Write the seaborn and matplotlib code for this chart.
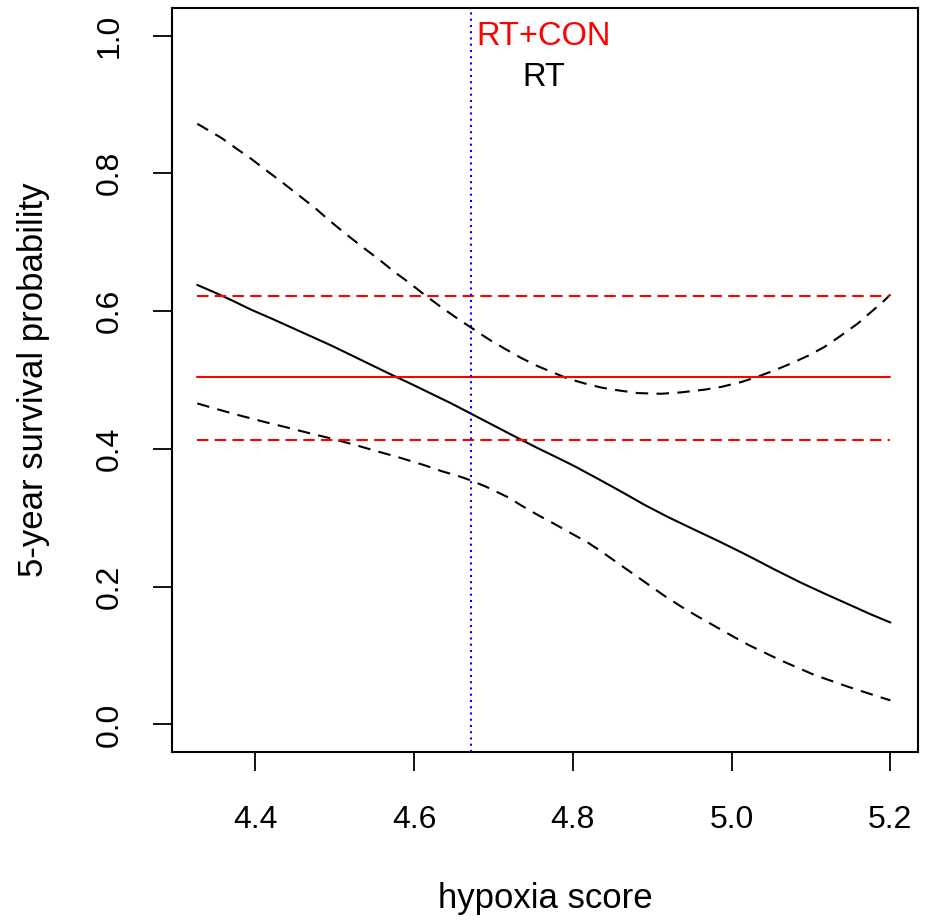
import matplotlib
matplotlib.use("Agg")
import matplotlib.pyplot as plt
import seaborn as sns
import pandas as pd

# ---- data ----
rt_x = [4.327, 4.349, 4.370, 4.395, 4.421, 4.446, 4.471, 4.496, 4.521, 4.546, 4.571,
        4.597, 4.622, 4.647, 4.672, 4.697, 4.727, 4.756, 4.781, 4.802, 4.831, 4.861,
        4.890, 4.920, 4.949, 4.982, 5.012, 5.029, 5.054, 5.087, 5.117, 5.150, 5.175, 5.200]
rt_y = [0.638, 0.627, 0.616, 0.602, 0.589, 0.576, 0.563, 0.550, 0.536, 0.522, 0.508,
        0.494, 0.480, 0.466, 0.451, 0.436, 0.418, 0.401, 0.387, 0.375, 0.357, 0.338,
        0.319, 0.301, 0.285, 0.267, 0.250, 0.240, 0.225, 0.206, 0.190, 0.173, 0.160, 0.148]

rt_up_x = [4.327, 4.358, 4.375, 4.395, 4.412, 4.435, 4.454, 4.475, 4.494, 4.513, 4.534,
           4.557, 4.574, 4.593, 4.614, 4.634, 4.655, 4.672, 4.685, 4.697, 4.718, 4.735,
           4.756, 4.777, 4.794, 4.815, 4.836, 4.857, 4.882, 4.911, 4.936, 4.966, 4.987,
           5.012, 5.031, 5.054, 5.075, 5.096, 5.117, 5.136, 5.159, 5.175, 5.192, 5.200]
rt_up_y = [0.872, 0.851, 0.837, 0.821, 0.806, 0.786, 0.769, 0.750, 0.731, 0.713, 0.694,
           0.674, 0.658, 0.642, 0.623, 0.606, 0.589, 0.576, 0.566, 0.557, 0.543, 0.532,
           0.520, 0.510, 0.502, 0.495, 0.489, 0.485, 0.481, 0.480, 0.482, 0.486, 0.490,
           0.497, 0.504, 0.514, 0.524, 0.535, 0.548, 0.563, 0.582, 0.598, 0.615, 0.624]

rt_lo_x = [4.327, 4.354, 4.379, 4.412, 4.437, 4.471, 4.496, 4.525, 4.555, 4.580, 4.614,
           4.634, 4.660, 4.672, 4.691, 4.718, 4.735, 4.756, 4.777, 4.794, 4.819, 4.836,
           4.857, 4.878, 4.899, 4.915, 4.938, 4.957, 4.980, 5.003, 5.022, 5.062, 5.104,
           5.146, 5.186, 5.200]
rt_lo_y = [0.466, 0.457, 0.449, 0.439, 0.432, 0.422, 0.415, 0.406, 0.396, 0.388, 0.376,
           0.368, 0.359, 0.354, 0.345, 0.330, 0.318, 0.304, 0.291, 0.280, 0.264, 0.251,
           0.234, 0.217, 0.200, 0.187, 0.170, 0.157, 0.142, 0.127, 0.115, 0.093, 0.072,
           0.055, 0.040, 0.035]

con_x = [4.327, 5.200]
con_mean = 0.505
con_upper = 0.622
con_lower = 0.413

cutoff = 4.672

x_ticks = [4.4, 4.6, 4.8, 5.0, 5.2]
x_ticklabels = ["4.4", "4.6", "4.8", "5.0", "5.2"]
y_ticks = [0.0, 0.2, 0.4, 0.6, 0.8, 1.0]
y_ticklabels = ["0.0", "0.2", "0.4", "0.6", "0.8", "1.0"]

# ---- style ----
sns.set_style("white")
plt.rcParams["font.family"] = ["Liberation Sans", "DejaVu Sans"]
plt.rcParams["text.color"] = "black"
plt.rcParams["axes.labelcolor"] = "black"
plt.rcParams["xtick.color"] = "black"
plt.rcParams["ytick.color"] = "black"

fig = plt.figure(figsize=(9.26, 9.24), dpi=100)
ax = fig.add_axes([172 / 926, 1 - 752 / 924, (918 - 172) / 926, (752 - 8) / 924])

LW = 1.5

def line(x, y, color, dashes=None):
    df = pd.DataFrame({"x": x, "y": y})
    sns.lineplot(data=df, x="x", y="y", ax=ax, color=color, lw=LW,
                 estimator=None, sort=False)
    ln = ax.lines[-1]
    if dashes is not None:
        ln.set_dashes(dashes)
    return ln

# RT fit and CI
line(rt_x, rt_y, "black")
line(rt_up_x, rt_up_y, "black", dashes=(6, 4))
line(rt_lo_x, rt_lo_y, "black", dashes=(6, 4))

# RT+CON constant and CI
line(con_x, [con_mean] * len(con_x), "#FF0000")
line(con_x, [con_upper] * len(con_x), "#FF0000", dashes=(5.5, 3))
line(con_x, [con_lower] * len(con_x), "#FF0000", dashes=(5.5, 3))

# cutoff
ax.axvline(cutoff, color="#0000FF", lw=LW, dashes=(1, 2))

ax.text(4.763, 0.998, "RT+CON", color="#FF0000", fontsize=23.5, ha="center", va="center")
ax.text(4.763, 0.939, "RT", color="black", fontsize=23.5, ha="center", va="center")

ax.set_xlim(4.2952, 5.2348)
ax.set_ylim(-0.04, 1.04)
ax.set_xticks(x_ticks)
ax.set_xticklabels(x_ticklabels, fontsize=23)
ax.set_yticks(y_ticks)
ax.set_yticklabels(y_ticklabels, fontsize=23, rotation=90, va="center")
ax.tick_params(axis="both", direction="out", length=14, width=1.3, color="black",
               left=True, bottom=True)
ax.tick_params(axis="x", pad=24)
ax.tick_params(axis="y", pad=20)

ax.set_xlabel("hypoxia score", fontsize=25, labelpad=34)
ax.set_ylabel("5-year survival probability", fontsize=25, labelpad=32)

for s in ax.spines.values():
    s.set_visible(True)
    s.set_color("black")
    s.set_linewidth(1.5)
ax.grid(False)

fig.savefig("out.png", dpi=100, facecolor="white")
